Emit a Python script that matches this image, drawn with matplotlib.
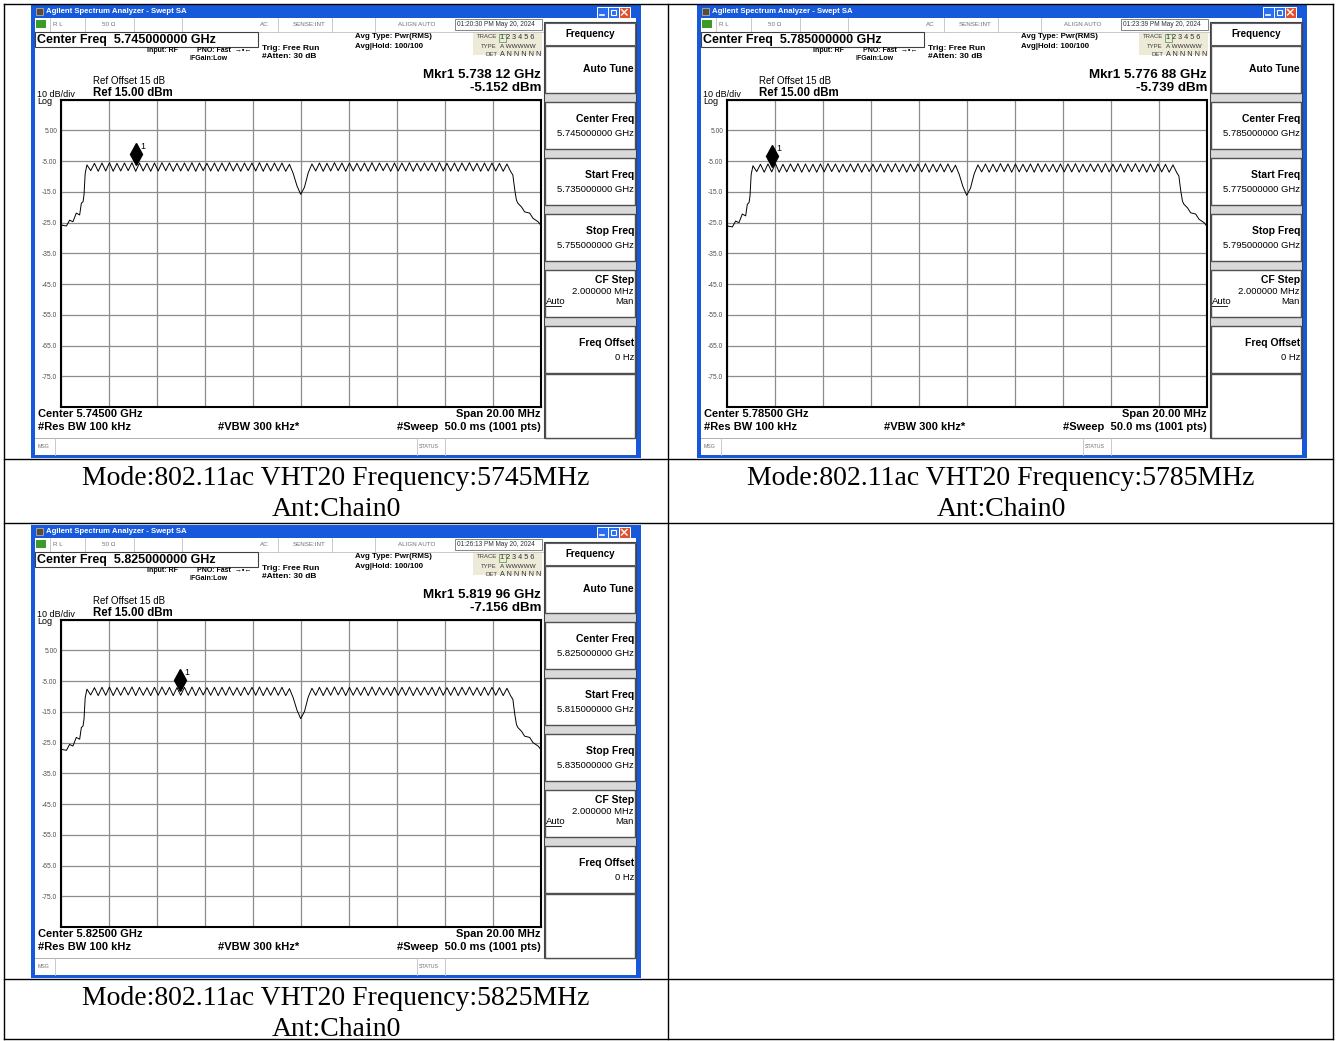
import matplotlib
matplotlib.use("Agg")
import matplotlib.pyplot as plt
from matplotlib.patches import Rectangle
from matplotlib.transforms import offset_copy
import numpy as np

W, H = 1336, 1041
UI = ['Liberation Sans', 'DejaVu Sans']
SERIF = ['Liberation Serif', 'DejaVu Serif']
BLUE = '#1659da'
GRAY = '#707070'

# ---- values ----
center_ghz = [5.745, 5.785, 5.825]
start_ghz = [5.735, 5.775, 5.815]
stop_ghz = [5.755, 5.795, 5.835]
mkr_ghz = [5.73812, 5.77688, 5.81996]
mkr_dbm = [-5.152, -5.739, -7.156]
mkr_text = ["5.738 12 GHz", "5.776 88 GHz", "5.819 96 GHz"]
stamps = ["01:20:30 PM May 20, 2024", "01:23:39 PM May 20, 2024", "01:26:13 PM May 20, 2024"]
freq_mhz = [5745, 5785, 5825]
trace_shift_db = [0.0, -0.3, -1.4]

ytick_db = [15, 5, -5, -15, -25, -35, -45, -55, -65, -75, -85]
ytick_lbl = ['', '5.00', '-5.00', '-15.0', '-25.0', '-35.0', '-45.0', '-55.0', '-65.0', '-75.0', '']

# trace shape (offset from centre in MHz, level in dBm)
skirt_l_mhz = [-10.0, -9.97, -9.76, -9.63, -9.49, -9.35, -9.21, -9.14, -9.07, -9.03, -8.98]
skirt_l_db = [-25.5, -25.8, -26.1, -24.2, -24.7, -21.9, -22.5, -18.7, -18.2, -16.1, -9.0]
skirt_r_mhz = [8.84, 8.92, 8.99, 9.05, 9.2, 9.33, 9.54, 9.68, 9.89, 10.0]
skirt_r_db = [-9.5, -14.4, -17.7, -18.7, -19.9, -21.5, -21.9, -23.6, -24.7, -25.8]
ripple_step_mhz = 0.15625   # half the 312.5 kHz subcarrier spacing
ripple_first = -57
ripple_db = [
    -6.2, -8.1, -5.7, -8.3, -5.6, -8.2, -5.5, -8.3, -5.7, -8.2,
    -5.6, -8.1, -5.5, -8.3, -5.6, -8.2, -5.7, -8.3, -5.6, -8.2,
    -5.5, -8.1, -5.6, -8.3, -5.7, -8.2, -5.6, -8.2, -5.5, -8.3,
    -5.6, -8.1, -5.7, -8.2, -5.6, -8.3, -5.6, -8.2, -5.5, -8.2,
    -5.7, -8.3, -5.6, -8.1, -5.6, -8.2, -5.5, -8.3, -5.7, -8.2,
    -5.6, -8.2, -5.6, -8.3,
    -6.0, -9.0, -13.0, -15.8, -13.5, -8.8, -5.9,
    -8.2, -5.6, -8.3, -5.7, -8.2, -5.5, -8.1, -5.6, -8.3, -5.6,
    -8.2, -5.7, -8.2, -5.6, -8.3, -5.5, -8.2, -5.6, -8.1, -5.7,
    -8.3, -5.6, -8.2, -5.6, -8.2, -5.5, -8.3, -5.7, -8.2, -5.6,
    -8.1, -5.6, -8.3, -5.5, -8.2, -5.7, -8.2, -5.6, -8.3, -5.6,
    -8.1, -5.5, -8.2, -5.7, -8.3, -5.6, -8.2, -5.6, -8.2, -5.7,
    -8.3, -5.9, -8.4,
]

fig = plt.figure(figsize=(W / 100, H / 100), dpi=100)
bg = fig.add_axes([0, 0, 1, 1])
bg.set_xlim(0, W)
bg.set_ylim(H, 0)
bg.axis('off')


def box(x, y, w, h, fc='none', ec='none', lw=1.0, z=1):
    bg.add_patch(Rectangle((x, y), w, h, facecolor=fc, edgecolor=ec, linewidth=lw, zorder=z))


def txt(x, y, s, size=6, weight='normal', color='black', ha='left', family=UI, z=5):
    bg.text(x, y, s, fontsize=size, fontweight=weight, color=color, ha=ha, va='center',
            family=family, zorder=z)


def vline(x, y0, y1, color='#c0c0c0', lw=0.6, z=3):
    bg.plot([x, x], [y0, y1], color=color, lw=lw, zorder=z)


def screen(X0, Y0, i):
    c = center_ghz[i]
    # window frame and title bar
    box(X0 - 3, Y0 - 1, 610, 453, fc=BLUE)
    box(X0 + 1, Y0 + 12, 601, 437, fc='white', z=2)
    box(X0 + 2, Y0 + 2, 7, 7, fc='#5a4a3a', ec='#c8c0b0', lw=0.5)
    txt(X0 + 12, Y0 + 5.5, 'Agilent Spectrum Analyzer - Swept SA', 5.6, 'bold', 'white')
    for bx, fc in [(563, '#2a6ef0'), (574, '#2a6ef0'), (585, '#e0512e')]:
        box(X0 + bx, Y0 + 1, 10.5, 10.5, fc=fc, ec='white', lw=0.7, z=3)
    bg.plot([X0 + 566, X0 + 570], [Y0 + 9, Y0 + 9], color='white', lw=1.2, zorder=4)
    box(X0 + 577, Y0 + 3.5, 5, 5, ec='white', lw=0.8, z=4)
    bg.plot([X0 + 587.5, X0 + 593], [Y0 + 3.5, Y0 + 9], color='white', lw=1.0, zorder=4)
    bg.plot([X0 + 587.5, X0 + 593], [Y0 + 9, Y0 + 3.5], color='white', lw=1.0, zorder=4)

    # status row
    bg.plot([X0 + 1, X0 + 509], [Y0 + 25.5, Y0 + 25.5], color='#c0c0c0', lw=0.6, zorder=3)
    for rx in [16, 51, 100, 148, 244, 298, 341]:
        vline(X0 + rx, Y0 + 12, Y0 + 25.5)
    box(X0 + 2, Y0 + 14, 10, 8, fc='#3c9a2a', z=3)
    txt(X0 + 19, Y0 + 18.5, 'R L', 4.5, color=GRAY)
    txt(X0 + 68, Y0 + 18.5, '50 Ω', 4.5, color=GRAY)
    txt(X0 + 226, Y0 + 18.5, 'AC', 4.5, color=GRAY)
    txt(X0 + 259, Y0 + 18.5, 'SENSE:INT', 4.5, color=GRAY)
    txt(X0 + 364, Y0 + 18.5, 'ALIGN AUTO', 4.5, color=GRAY)
    box(X0 + 421, Y0 + 13, 87, 11, fc='white', ec='#707070', lw=0.6, z=3)
    txt(X0 + 423, Y0 + 18.5, stamps[i], 4.7, color='#303030')

    # measurement header
    box(X0 + 1, Y0 + 26, 223, 15, fc='white', ec='#404040', lw=0.8, z=3)
    txt(X0 + 3, Y0 + 33.5, 'Center Freq  %.9f GHz' % c, 9, 'bold')
    txt(X0 + 113, Y0 + 44, 'Input: RF', 5, 'bold')
    txt(X0 + 163, Y0 + 44, 'PNO: Fast  →•←', 5, 'bold')
    txt(X0 + 156, Y0 + 53, 'IFGain:Low', 5, 'bold')
    txt(X0 + 228, Y0 + 42, 'Trig: Free Run', 6, 'bold')
    txt(X0 + 228, Y0 + 51, '#Atten: 30 dB', 6, 'bold')
    txt(X0 + 321, Y0 + 31, 'Avg Type: Pwr(RMS)', 5.7, 'bold')
    txt(X0 + 321, Y0 + 41, 'Avg|Hold: 100/100', 5.7, 'bold')
    box(X0 + 439, Y0 + 27, 69, 22, fc='#eeead8', z=3)
    txt(X0 + 463, Y0 + 31, 'TRACE', 4.3, color='#404040', ha='right')
    txt(X0 + 463, Y0 + 40, 'TYPE', 4.3, color='#404040', ha='right')
    txt(X0 + 463, Y0 + 48, 'DET', 4.3, color='#404040', ha='right')
    box(X0 + 465, Y0 + 27.5, 7, 8, ec='#60a060', lw=0.6, z=4)
    txt(X0 + 466, Y0 + 31.5, '1 2 3 4 5 6', 5.2, color='#303030')
    txt(X0 + 466, Y0 + 40, 'A WWWWW', 4.6, color='#303030')
    txt(X0 + 466, Y0 + 48.5, 'A N N N N N', 5.2, color='#303030')
    txt(X0 + 507, Y0 + 69, 'Mkr1 ' + mkr_text[i], 9.6, 'bold', ha='right')
    txt(X0 + 507, Y0 + 82, '%.3f dBm' % mkr_dbm[i], 9.6, 'bold', ha='right')
    txt(X0 + 59, Y0 + 75.5, 'Ref Offset 15 dB', 7.0)
    txt(X0 + 59, Y0 + 86.5, 'Ref 15.00 dBm', 8.3, 'bold')
    txt(X0 + 3, Y0 + 88.5, '10 dB/div', 6.5)
    txt(X0 + 3, Y0 + 95, 'Log', 6.5)

    # bottom annotations and message bar
    txt(X0 + 4, Y0 + 408, 'Center %.5f GHz' % c, 8, 'bold')
    txt(X0 + 4, Y0 + 421.5, '#Res BW 100 kHz', 8, 'bold')
    txt(X0 + 184, Y0 + 421.5, '#VBW 300 kHz*', 8, 'bold')
    txt(X0 + 507, Y0 + 408, 'Span 20.00 MHz', 8, 'bold', ha='right')
    txt(X0 + 507, Y0 + 421.5, '#Sweep  50.0 ms (1001 pts)', 8, 'bold', ha='right')
    bg.plot([X0 + 1, X0 + 602], [Y0 + 432, Y0 + 432], color='#b0b0b0', lw=0.7, zorder=3)
    vline(X0 + 21, Y0 + 432, Y0 + 449)
    vline(X0 + 383, Y0 + 432, Y0 + 449)
    vline(X0 + 411, Y0 + 432, Y0 + 449)
    txt(X0 + 4, Y0 + 440.5, 'MSG', 3.8, color=GRAY)
    txt(X0 + 385, Y0 + 440.5, 'STATUS', 3.8, color=GRAY)

    # softkey panel
    box(X0 + 510, Y0 + 16, 92, 416, fc='#d9d9d9', ec='#404040', lw=0.8, z=3)
    box(X0 + 511, Y0 + 17, 90, 22, fc='white', ec='#606060', lw=0.8, z=3)
    txt(X0 + 556, Y0 + 28, 'Frequency', 7, 'bold', ha='center')
    keys = [('Auto Tune', None), ('Center Freq', '%.9f GHz' % c),
            ('Start Freq', '%.9f GHz' % start_ghz[i]), ('Stop Freq', '%.9f GHz' % stop_ghz[i]),
            ('CF Step', '2.000000 MHz'), ('Freq Offset', '0 Hz')]
    for k, (title, value) in enumerate(keys):
        top = Y0 + 40 + 56 * k
        box(X0 + 511, top, 90, 47, fc='white', ec='#505050', lw=1.0, z=3)
        if value is None:
            txt(X0 + 600, top + 23, title, 7.5, 'bold', ha='right')
        elif title == 'CF Step':
            txt(X0 + 600, top + 10, title, 7.5, 'bold', ha='right')
            txt(X0 + 600, top + 22, value, 6.8, ha='right')
            txt(X0 + 512, top + 32, 'Auto', 6.8)
            bg.plot([X0 + 512, X0 + 527], [top + 36, top + 36], color='black', lw=0.6, zorder=6)
            txt(X0 + 600, top + 32, 'Man', 6.8, ha='right')
        else:
            txt(X0 + 600, top + 17, title, 7.5, 'bold', ha='right')
            txt(X0 + 600, top + 31, value, 6.8, ha='right')
    box(X0 + 511, Y0 + 368, 90, 64, fc='white', ec='#505050', lw=1.0, z=3)

    # the trace display
    ax = fig.add_axes([(X0 + 26.7) / W, 1 - (Y0 + 401) / H, 480 / W, 307.3 / H])
    ax.set_facecolor('white')
    ax.set_xlim(c - 0.010, c + 0.010)
    ax.set_ylim(-85, 15)
    ax.set_xticks(c + np.arange(-5, 6) * 0.002)
    ax.set_yticks(ytick_db)
    ax.set_yticklabels(ytick_lbl, family=UI)
    ax.tick_params(length=0, labelsize=4.8, labelcolor='#505050', pad=2.5, labelbottom=False)
    ax.grid(color='#8c8c8c', lw=0.9)
    for sp in ax.spines.values():
        sp.set_linewidth(1.5)
        sp.set_color('black')
    rip_off = (np.arange(len(ripple_db)) + ripple_first) * ripple_step_mhz
    off = np.concatenate([skirt_l_mhz, rip_off, skirt_r_mhz])
    lvl = np.concatenate([skirt_l_db, ripple_db, skirt_r_db]) + trace_shift_db[i]
    ax.plot(c + off / 1000.0, lvl, color='black', lw=0.7, clip_on=True)
    up = offset_copy(ax.transData, fig=fig, x=0, y=7.5, units='dots')
    ax.plot([mkr_ghz[i]], [mkr_dbm[i]], marker='d', ms=11, color='black', transform=up,
            clip_on=False)
    lab = offset_copy(ax.transData, fig=fig, x=5, y=15, units='dots')
    ax.text(mkr_ghz[i], mkr_dbm[i], '1', fontsize=6.5, family=UI, transform=lab,
            va='center', ha='left')


screen(34, 6, 0)
screen(700, 6, 1)
screen(34, 526, 2)

# table grid and captions
for x in [4, 668, 1333]:
    bg.plot([x, x], [3.5, 1039], color='black', lw=1.0, zorder=1)
for y in [3.5, 459, 523, 979, 1039]:
    bg.plot([4, 1333], [y, y], color='black', lw=1.0, zorder=1)

cap_pos = [(336, 477), (1001, 477), (336, 997)]
for (cx, cy), f in zip(cap_pos, freq_mhz):
    txt(cx, cy + 1.5, 'Mode:802.11ac VHT20 Frequency:%dMHz' % f, 20, ha='center', family=SERIF)
    txt(cx, cy + 32.5, 'Ant:Chain0', 20, ha='center', family=SERIF)

fig.savefig('out.png', dpi=100)
